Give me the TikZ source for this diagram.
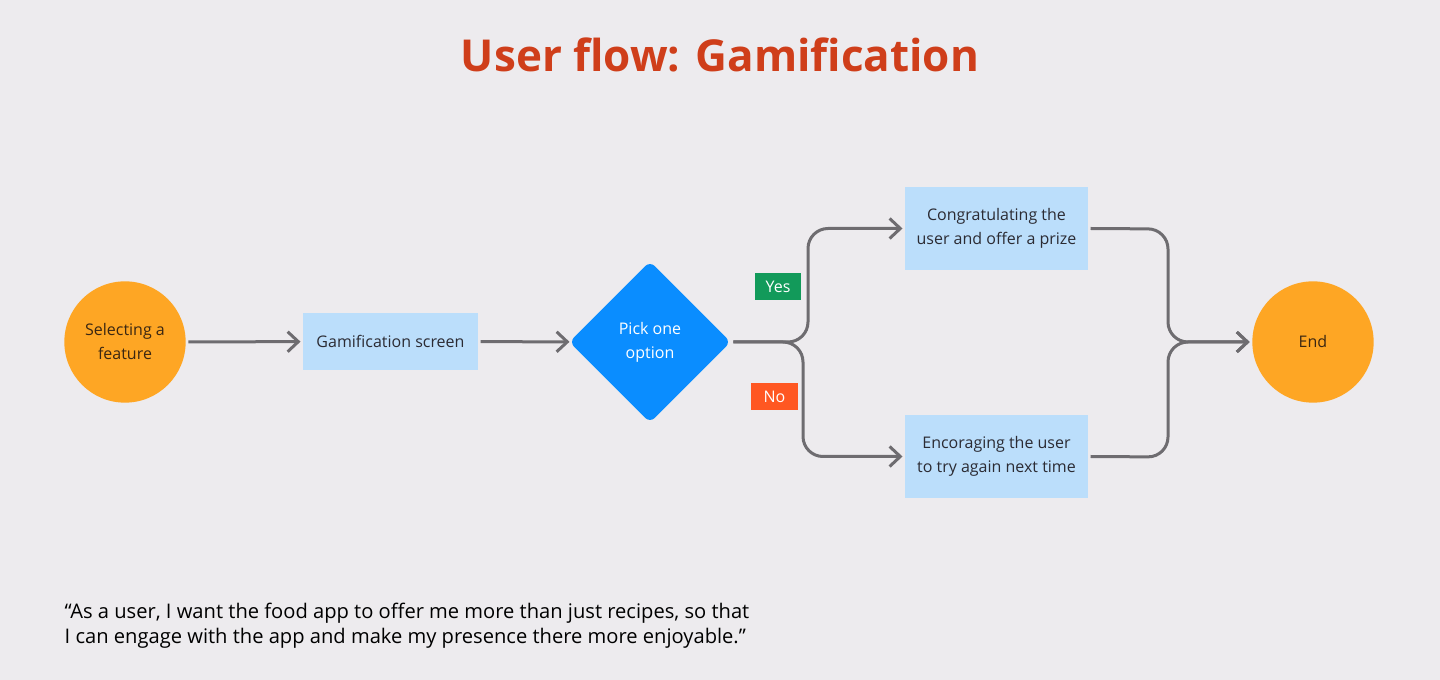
\documentclass[tikz,border=0pt]{standalone}
\usepackage{fontspec}
\setmainfont{Open Sans}
\usepackage{xcolor}
\usetikzlibrary{arrows.meta, positioning, shapes.geometric}

\definecolor{bgcol}{HTML}{EDEBEE}
\definecolor{titlecol}{HTML}{CF3E1A}
\definecolor{orangecol}{HTML}{FEA624}
\definecolor{browncol}{HTML}{3B2712}
\definecolor{boxcol}{HTML}{BBDEFB}
\definecolor{boxtext}{HTML}{2B2B33}
\definecolor{bluecol}{HTML}{0A8DFF}
\definecolor{linecol}{HTML}{6E6C70}
\definecolor{yescol}{HTML}{129A5A}
\definecolor{nocol}{HTML}{FF5722}

\begin{document}
\begin{tikzpicture}[
    x=0.75pt, y=-0.75pt,
    every node/.style={font=\fontsize{12}{18}\selectfont},
    terminal/.style={circle, fill=orangecol, text=browncol, minimum size=91pt,
      inner sep=0pt, outer sep=2pt, align=center},
    stepbox/.style={rectangle, fill=boxcol, text=boxtext, inner sep=0pt,
      outer sep=2pt, align=center},
    choice/.style={diamond, fill=bluecol, text=white, minimum size=121pt,
      inner sep=0pt, outer sep=0pt, rounded corners=5pt, align=center},
    tag/.style={fill=#1, text=white, minimum width=35pt, minimum height=20pt,
      inner sep=0pt},
    flow/.style={draw=linecol, line width=2.25pt, rounded corners=15pt, ->},
    >={Straight Barb[length=8pt, width=15pt]}
  ]
  % background and title
  \fill[bgcol] (0,0) rectangle (1440,680);
  \node[font=\fontsize{33}{40}\selectfont\bfseries, text=titlecol] (title) at (720,55) {User flow: Gamification};
  % main row
  \node[terminal] (start) at (125,342) {Selecting a\\feature};
  \node[stepbox, minimum width=131pt, minimum height=43pt] (screen) at (390.5,341.5) {Gamification screen};
  \node[choice] (pick) at (650,342) {Pick one\\option};
  \node[stepbox, minimum width=137pt, minimum height=62pt] (prize) at (996.5,228.5) {Congratulating the\\user and offer a prize};
  \node[stepbox, minimum width=137pt, minimum height=62pt] (again) at (996.5,456.5) {Encoraging the user\\to try again next time};
  \node[terminal] (end) at (1313,342) {End};
  % branch tags
  \node[tag=yescol] (yes) at (778,286.5) {Yes};
  \node[tag=nocol] (no) at (774.5,396.5) {No};
  % connectors
  \draw[flow] (start) -- (screen);
  \draw[flow] (screen) -- (pick);
  \draw[flow] ([xshift=2pt]pick.east) -- (808,342) |- (prize.west);
  \draw[flow] ([xshift=2pt]pick.east) -- (803,342) |- (again.west);
  \draw[flow] (prize.east) -- (1168,229) -- (1168,342) -- (end.west);
  \draw[flow] (again.east) -- (1168,457) -- (1168,342) -- (end.west);
  % user story
  \node[anchor=north west, align=left, font=\fontsize{15.1}{18.75}\selectfont, text=black] (story) at (60,598)
    {“As a user, I want the food app to offer me more than just recipes, so that\\I can engage with the app and make my presence there more enjoyable.”};
\end{tikzpicture}
\end{document}
